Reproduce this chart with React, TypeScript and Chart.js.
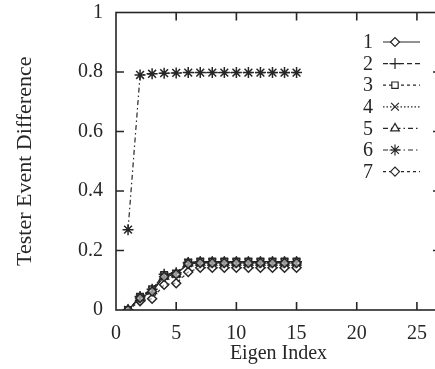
import React, { useEffect, useRef } from "react";
import { Chart, registerables } from "chart.js";
import { drawPoint } from "chart.js/helpers";

Chart.register(...registerables);

const eigenIndex = [1, 2, 3, 4, 5, 6, 7, 8, 9, 10, 11, 12, 13, 14, 15];
const series1 = [0.0, 0.04, 0.062, 0.112, 0.12, 0.155, 0.158, 0.158, 0.158, 0.158, 0.158, 0.158, 0.158, 0.158, 0.158];
const series2 = [0.0, 0.045, 0.07, 0.12, 0.125, 0.16, 0.162, 0.162, 0.162, 0.162, 0.162, 0.162, 0.162, 0.162, 0.162];
const series3 = [0.0, 0.045, 0.07, 0.118, 0.123, 0.16, 0.163, 0.163, 0.163, 0.163, 0.163, 0.163, 0.163, 0.163, 0.163];
const series4 = [0.0, 0.042, 0.066, 0.115, 0.121, 0.158, 0.16, 0.16, 0.16, 0.16, 0.16, 0.16, 0.16, 0.16, 0.16];
const series5 = [0.0, 0.04, 0.064, 0.113, 0.12, 0.157, 0.16, 0.16, 0.16, 0.16, 0.16, 0.16, 0.16, 0.16, 0.16];
const series6 = [0.27, 0.79, 0.794, 0.796, 0.797, 0.798, 0.798, 0.798, 0.798, 0.798, 0.798, 0.798, 0.798, 0.798, 0.798];
const series7 = [0.0, 0.03, 0.038, 0.085, 0.09, 0.128, 0.142, 0.142, 0.142, 0.142, 0.142, 0.142, 0.142, 0.142, 0.142];

const seriesLabels = ["1", "2", "3", "4", "5", "6", "7"];
const xTicks = [0, 5, 10, 15, 20, 25];
const yTicks = [0, 0.2, 0.4, 0.6, 0.8, 1];

const INK = "#262626";
const FONT = "Liberation Serif";

const styles = [
  { point: "rectRot", dash: [] as number[], r: 4.5 },
  { point: "cross", dash: [5, 3], r: 5.5 },
  { point: "rect", dash: [3, 3], r: 4.5 },
  { point: "crossRot", dash: [1.5, 2], r: 5.5 },
  { point: "triangle", dash: [5, 3, 1.5, 3], r: 5 },
  { point: "star", dash: [5, 3, 1.5, 3], r: 5.5 },
  { point: "rectRot", dash: [3, 3], r: 4.5 },
];

const framePlugin = {
  id: "frame",
  afterDraw(chart: any) {
    const { ctx, chartArea: a, scales } = chart;
    ctx.save();
    ctx.strokeStyle = INK;
    ctx.lineWidth = 1.6;
    ctx.setLineDash([]);
    ctx.strokeRect(a.left, a.top, a.right - a.left, a.bottom - a.top);
    const tl = 8;
    ctx.beginPath();
    xTicks.forEach((v) => {
      if (v === 0) return;
      const x = scales.x.getPixelForValue(v);
      ctx.moveTo(x, a.bottom);
      ctx.lineTo(x, a.bottom - tl);
      ctx.moveTo(x, a.top);
      ctx.lineTo(x, a.top + tl);
    });
    yTicks.forEach((v) => {
      if (v === 0 || v === 1) return;
      const y = scales.y.getPixelForValue(v);
      ctx.moveTo(a.left, y);
      ctx.lineTo(a.left + tl, y);
      ctx.moveTo(a.right, y);
      ctx.lineTo(a.right - tl, y);
    });
    ctx.stroke();

    // legend
    ctx.font = `20px "${FONT}"`;
    ctx.textAlign = "right";
    ctx.textBaseline = "middle";
    chart.data.datasets.forEach((ds: any, i: number) => {
      const y = 42 + i * 21.6;
      ctx.fillStyle = INK;
      ctx.fillText(seriesLabels[i], 373, y + 1);
      ctx.strokeStyle = INK;
      ctx.lineWidth = 1.2;
      ctx.setLineDash(styles[i].dash);
      ctx.beginPath();
      ctx.moveTo(383, y);
      ctx.lineTo(420, y);
      ctx.stroke();
      ctx.setLineDash([]);
      ctx.fillStyle = "#fff";
      drawPoint(ctx, { pointStyle: styles[i].point, radius: styles[i].r, borderWidth: 1.5, rotation: 0 } as any, 395, y);
    });
    ctx.restore();
  },
};

export default function App() {
  const ref = useRef<HTMLCanvasElement>(null);
  useEffect(() => {
    const all = [series1, series2, series3, series4, series5, series6, series7];
    const chart = new Chart(ref.current!, {
      type: "line",
      data: {
        datasets: all.map((s, i) => ({
          label: seriesLabels[i],
          data: s.map((v, j) => ({ x: eigenIndex[j], y: v })),
          borderColor: INK,
          borderWidth: 1.2,
          borderDash: styles[i].dash,
          pointStyle: styles[i].point as any,
          pointRadius: styles[i].r,
          pointBorderWidth: 1.5,
          pointBorderColor: INK,
          pointBackgroundColor: "rgba(255,255,255,0.5)",
          tension: 0,
          fill: false,
        })),
      },
      options: {
        responsive: false,
        animation: false,
        devicePixelRatio: 1,
        layout: { padding: { left: 0, top: 12.5, right: 19, bottom: 0 } },
        plugins: { legend: { display: false }, tooltip: { enabled: false } },
        scales: {
          x: {
            type: "linear",
            min: 0,
            max: 27,
            afterBuildTicks: (s: any) => {
              s.ticks = xTicks.map((v) => ({ value: v }));
            },
            afterFit: (s: any) => {
              s.height = 59;
              s.paddingLeft = 0;
              s.paddingRight = 0;
            },
            grid: { display: false, drawTicks: false },
            border: { display: false },
            ticks: { color: INK, font: { family: FONT, size: 20 }, padding: 12, maxRotation: 0, callback: (v: any) => String(v) },
            title: { display: true, text: "Eigen Index", color: INK, font: { family: FONT, size: 20 }, padding: { top: 0, bottom: 3 } },
          },
          y: {
            type: "linear",
            min: 0,
            max: 1,
            afterBuildTicks: (s: any) => {
              s.ticks = yTicks.map((v) => ({ value: v }));
            },
            afterFit: (s: any) => {
              s.width = 116;
              s.paddingTop = 0;
              s.paddingBottom = 0;
            },
            grid: { display: false, drawTicks: false },
            border: { display: false },
            ticks: { color: INK, font: { family: FONT, size: 20 }, padding: 13, callback: (v: any) => String(v) },
            title: { display: true, text: "Tester Event Difference", color: INK, font: { family: FONT, size: 22 }, padding: { top: 12, bottom: 0 } },
          },
        },
      },
      plugins: [framePlugin],
    });
    return () => chart.destroy();
  }, []);
  return (
    <div style={{ position: "fixed", left: 0, top: 0, width: 435, height: 369, overflow: "hidden", background: "#fff" }}>
      <canvas ref={ref} width={460} height={369} style={{ display: "block" }} />
    </div>
  );
}
